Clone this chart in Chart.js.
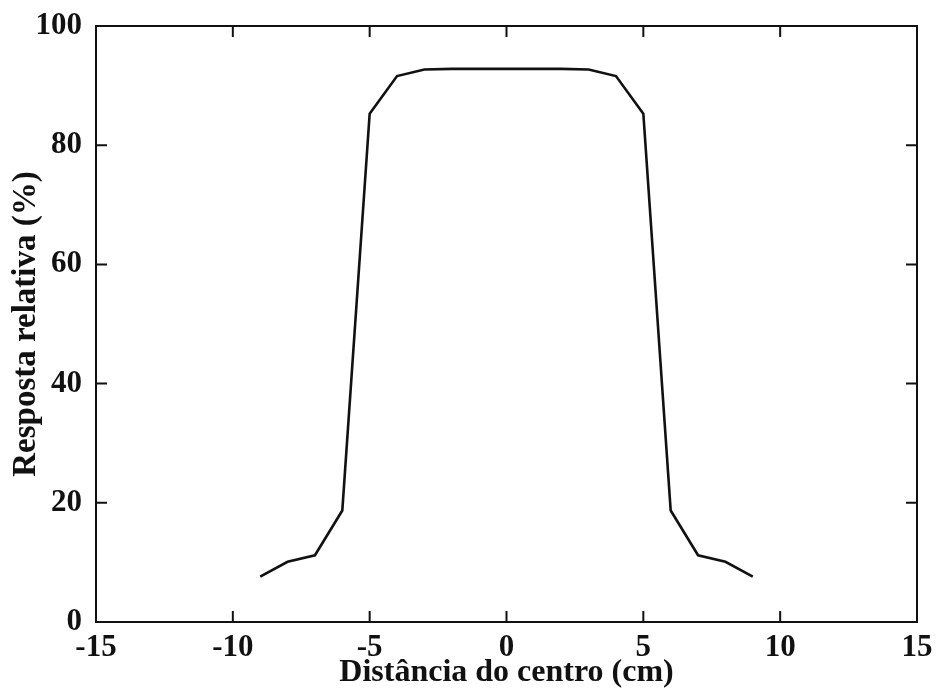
<!DOCTYPE html>
<html>
<head>
<meta charset="utf-8">
<script src="https://cdn.jsdelivr.net/npm/chart.js@4.4.1/dist/chart.umd.min.js"></script>
<style>
  html, body { margin: 0; padding: 0; background: #fff; }
  canvas { display: block; }
</style>
</head>
<body>
<canvas id="perfil" width="940" height="693"></canvas>
<script>
// distancia do centro (cm) e resposta relativa (%)
const distancias = [-9, -8, -7, -6, -5, -4, -3, -2, -1, 0, 1, 2, 3, 4, 5, 6, 7, 8, 9]
const respostas = [7.6, 10.1, 11.2, 18.7, 85.3, 91.6, 92.7, 92.8, 92.8, 92.8, 92.8, 92.8, 92.7, 91.6, 85.3, 18.7, 11.2, 10.1, 7.6]
const xTicks = [-15, -10, -5, 0, 5, 10, 15]
const yTicks = [0, 20, 40, 60, 80, 100]

const serif = "'Liberation Serif', 'Times New Roman', serif"

// moldura e marcas internas (como no original)
const moldura = {
  id: "moldura",
  afterDraw(chart) {
    const { ctx, chartArea: a, scales } = chart
    const len = 11
    ctx.save()
    ctx.strokeStyle = "#111"
    ctx.lineWidth = 2
    ctx.strokeRect(a.left, a.top, a.right - a.left, a.bottom - a.top)
    ctx.beginPath()
    xTicks.slice(1, -1).forEach((v) => {
      const px = scales.x.getPixelForValue(v)
      ctx.moveTo(px, a.bottom); ctx.lineTo(px, a.bottom - len)
      ctx.moveTo(px, a.top); ctx.lineTo(px, a.top + len)
    })
    yTicks.slice(1, -1).forEach((v) => {
      const py = scales.y.getPixelForValue(v)
      ctx.moveTo(a.left, py); ctx.lineTo(a.left + len, py)
      ctx.moveTo(a.right, py); ctx.lineTo(a.right - len, py)
    })
    ctx.stroke()
    ctx.restore()
  },
}

new Chart(document.getElementById("perfil"), {
  type: "scatter",
  data: {
    datasets: [
      {
        data: distancias.map((x, i) => ({ x: x, y: respostas[i] })),
        showLine: true,
        borderColor: "#111",
        borderWidth: 2.6,
        pointRadius: 0,
        tension: 0,
      },
    ],
  },
  options: {
    responsive: false,
    animation: false,
    layout: { padding: { left: 0, right: 23, top: 26, bottom: 0 } },
    plugins: { legend: { display: false }, tooltip: { enabled: false } },
    scales: {
      x: {
        type: "linear",
        min: -15,
        max: 15,
        afterBuildTicks: (s) => { s.ticks = xTicks.map((v) => ({ value: v })) },
        afterFit: (s) => { s.height = 71; s.paddingLeft = 0; s.paddingRight = 0 },
        grid: { display: false, drawTicks: false },
        border: { display: false },
        ticks: {
          color: "#111",
          padding: 10,
          maxRotation: 0,
          font: { family: serif, size: 31, weight: "bold", lineHeight: 1 },
        },
        title: {
          display: true,
          text: "Distância do centro (cm)",
          color: "#111",
          padding: { top: 0, bottom: 4 },
          font: { family: serif, size: 32, weight: "bold", lineHeight: 1 },
        },
      },
      y: {
        type: "linear",
        min: 0,
        max: 100,
        afterBuildTicks: (s) => { s.ticks = yTicks.map((v) => ({ value: v })) },
        afterFit: (s) => { s.width = 96; s.paddingTop = 0; s.paddingBottom = 0 },
        grid: { display: false, drawTicks: false },
        border: { display: false },
        ticks: {
          color: "#111",
          padding: 14,
          font: { family: serif, size: 31, weight: "bold", lineHeight: 1 },
        },
        title: {
          display: true,
          text: "Resposta relativa (%)",
          color: "#111",
          padding: { top: 10, bottom: 0 },
          font: { family: serif, size: 33, weight: "bold", lineHeight: 1 },
        },
      },
    },
  },
  plugins: [moldura],
})
</script>
</body>
</html>
